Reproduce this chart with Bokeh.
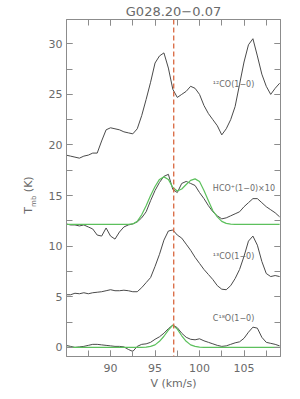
from bokeh.plotting import figure
from bokeh.layouts import row
from bokeh.models import Span, Label, LinearAxis, SingleIntervalTicker, Div
from bokeh.embed import file_html
from bokeh.resources import INLINE

# velocity channels (km/s)
velocity = [85.0, 85.5, 86.0, 86.5, 87.0, 87.5, 88.0, 88.5, 89.0, 89.5,
            90.0, 90.5, 91.0, 91.5, 92.0, 92.5, 93.0, 93.5, 94.0, 94.5,
            95.0, 95.5, 96.0, 96.5, 97.0, 97.5, 98.0, 98.5, 99.0, 99.5,
            100.0, 100.5, 101.0, 101.5, 102.0, 102.5, 103.0, 103.5, 104.0, 104.5,
            105.0, 105.5, 106.0, 106.5, 107.0, 107.5, 108.0, 108.5, 109.0]

# 12CO(1-0) (offset spectrum, K)
co12 = [19.0, 18.9, 18.8, 18.7, 18.9, 19.0, 19.2, 19.2, 20.4, 21.5,
        21.7, 21.6, 21.5, 21.3, 21.2, 21.1, 21.6, 22.9, 24.5, 26.2,
        28.1, 28.8, 29.1, 27.6, 25.5, 24.7, 25.0, 25.3, 25.8, 25.6,
        25.0, 23.9, 23.1, 22.5, 21.9, 21.0, 21.6, 22.5, 23.8, 26.0,
        28.2, 29.9, 30.5, 28.8, 27.0, 25.8, 25.0, 25.6, 26.1]

# HCO+(1-0) x10 (offset spectrum, K)
hcop = [12.2, 12.1, 12.1, 12.0, 12.1, 11.9, 11.7, 11.1, 11.0, 11.8,
        11.0, 10.7, 11.4, 11.9, 12.1, 12.2, 12.4, 12.8, 13.4, 14.5,
        15.5, 16.3, 16.9, 17.1, 15.6, 15.3, 16.2, 16.4, 16.2, 16.0,
        15.3, 14.7, 14.0, 13.4, 13.0, 12.7, 12.8, 13.0, 13.2, 13.4,
        13.9, 14.3, 14.7, 14.7, 14.3, 13.9, 13.6, 13.3, 12.9]

# HCO+ fitted profile (green)
hcop_fit = [12.15, 12.15, 12.15, 12.15, 12.15, 12.15, 12.15, 12.15, 12.15, 12.15,
            12.15, 12.15, 12.15, 12.15, 12.15, 12.2, 12.45, 13.1, 14.0, 15.0,
            15.9, 16.6, 16.85, 16.6, 15.8, 15.45, 15.65, 16.1, 16.5, 16.65,
            16.4, 15.5, 14.5, 13.5, 12.9, 12.45, 12.25, 12.18, 12.15, 12.15,
            12.15, 12.15, 12.15, 12.15, 12.15, 12.15, 12.15, 12.15, 12.15]

# 13CO(1-0) (offset spectrum, K)
co13 = [5.2, 5.2, 5.35, 5.3, 5.4, 5.3, 5.4, 5.45, 5.5, 5.6,
        5.7, 5.6, 5.6, 5.65, 5.6, 5.5, 5.5, 5.9, 6.4, 6.9,
        8.0, 9.2, 10.6, 11.5, 11.6, 11.1, 10.8, 10.2, 9.6, 8.9,
        8.3, 7.7, 7.2, 6.7, 6.1, 5.75, 5.7, 6.1, 6.8, 7.7,
        9.0, 10.5, 11.0, 10.1, 8.5, 7.3, 7.0, 7.1, 7.0]

# C18O(1-0) (K)
c18o = [0.2, 0.1, 0.0, 0.05, 0.1, 0.2, 0.3, 0.3, 0.25, 0.2,
        0.15, 0.1, 0.1, 0.05, -0.2, -0.4, 0.1, 0.3, 0.35, 0.5,
        0.8, 1.05, 1.4, 1.85, 2.2, 1.95, 1.4, 1.0, 0.8, 0.75,
        0.85, 0.65, 0.5, 0.35, 0.2, 0.1, 0.15, 0.3, 0.45, 0.55,
        0.9, 1.5, 2.0, 1.9, 1.0, 0.5, 0.4, 0.3, 0.15]

# C18O fitted profile (green)
c18o_fit = [0.0, 0.0, 0.0, 0.0, 0.0, 0.0, 0.0, 0.0, 0.0, 0.0,
            0.0, 0.0, 0.0, 0.0, 0.0, 0.0, 0.0, 0.0, 0.02, 0.1,
            0.25, 0.6, 1.1, 1.7, 2.2, 1.8, 1.15, 0.6, 0.25, 0.1,
            0.02, 0.0, 0.0, 0.0, 0.0, 0.0, 0.0, 0.0, 0.0, 0.0,
            0.0, 0.0, 0.0, 0.0, 0.0, 0.0, 0.0, 0.0, 0.0]

v_systemic = 97.1
title_text = "G028.20\u22120.07"
line_labels = ["\u00b9\u00b2CO(1\u22120)", "HCO\u207a(1\u22120)\u00d710",
               "\u00b9\u00b3CO(1\u22120)", "C\u00b9\u2078O(1\u22120)"]
line_label_y = [26.0, 15.66, 8.97, 2.84]
label_v = 101.5

AX = "#8c8c8c"
TXT = "#6a6a6a"
SPEC = "#4a4a4a"
FIT = "#5cc05c"
DASH = "#d9673f"
FONT = "DejaVu Sans"

p = figure(x_range=(85.05, 109.1), y_range=(-0.9, 32.4),
           frame_width=214, frame_height=337,
           min_border_left=26, min_border_right=12,
           min_border_top=10, min_border_bottom=36,
           output_backend="svg", toolbar_location=None)
p.xgrid.visible = False
p.ygrid.visible = False
p.outline_line_color = AX
p.background_fill_color = "white"
p.border_fill_color = "white"

p.title.text = title_text
p.title.align = "center"
p.title.text_font = FONT
p.title.text_font_size = "13px"
p.title.text_font_style = "normal"
p.title.text_color = TXT
p.title.standoff = 2
p.title.offset = 0

p.add_layout(LinearAxis(), "right")
p.add_layout(LinearAxis(), "above")

for ax in p.axis:
    ax.ticker = SingleIntervalTicker(interval=5, num_minor_ticks=2)
    ax.axis_line_color = AX
    ax.major_tick_line_color = AX
    ax.minor_tick_line_color = AX
    ax.major_tick_in = 6
    ax.major_tick_out = 0
    ax.minor_tick_in = 6
    ax.minor_tick_out = 0
    ax.major_label_text_font = FONT
    ax.major_label_text_font_size = "11px"
    ax.major_label_text_color = TXT
    ax.major_label_standoff = 4

for ax in p.right + p.above:
    ax.major_label_text_font_size = "1px"
    ax.major_label_text_color = None
    ax.major_label_standoff = 0

xa = p.below[0]
xa.major_label_standoff = 7
xa.axis_label = "V (km/s)"
xa.axis_label_text_font = FONT
xa.axis_label_text_font_size = "11px"
xa.axis_label_text_font_style = "normal"
xa.axis_label_text_color = TXT
xa.axis_label_standoff = 2

# spectra
p.line(velocity, co12, color=SPEC, line_width=1)
p.line(velocity, hcop, color=SPEC, line_width=1)
p.line(velocity, co13, color=SPEC, line_width=1)
p.line(velocity, c18o, color=SPEC, line_width=1)
p.line(velocity, hcop_fit, color=FIT, line_width=1.2)
p.line(velocity, c18o_fit, color=FIT, line_width=1.2)

p.add_layout(Span(location=v_systemic, dimension="height", line_color=DASH,
                  line_dash="5 3", line_width=1.3))

for txt, yy in zip(line_labels, line_label_y):
    p.add_layout(Label(x=label_v, y=yy, text=txt, text_font=FONT,
                       text_font_size="8px", text_color=TXT,
                       text_baseline="middle", text_align="left"))

# y axis label T_mb (K) as rotated HTML text
ylabel_html = (
    '<div style="position:relative;width:40px;height:391px;">'
    '<div style="position:absolute;left:30px;top:195px;'
    'transform:translate(-50%,-50%) rotate(-90deg);white-space:nowrap;'
    "font-family:'DejaVu Sans';font-size:11px;color:#6a6a6a;\">"
    'T<sub style="font-size:7px;">mb</sub> (K)</div></div>'
)
ylab = Div(text=ylabel_html, width=40, height=391, margin=0)

layout = row(ylab, p, spacing=0)
open("out.html", "w").write(file_html(layout, INLINE))
